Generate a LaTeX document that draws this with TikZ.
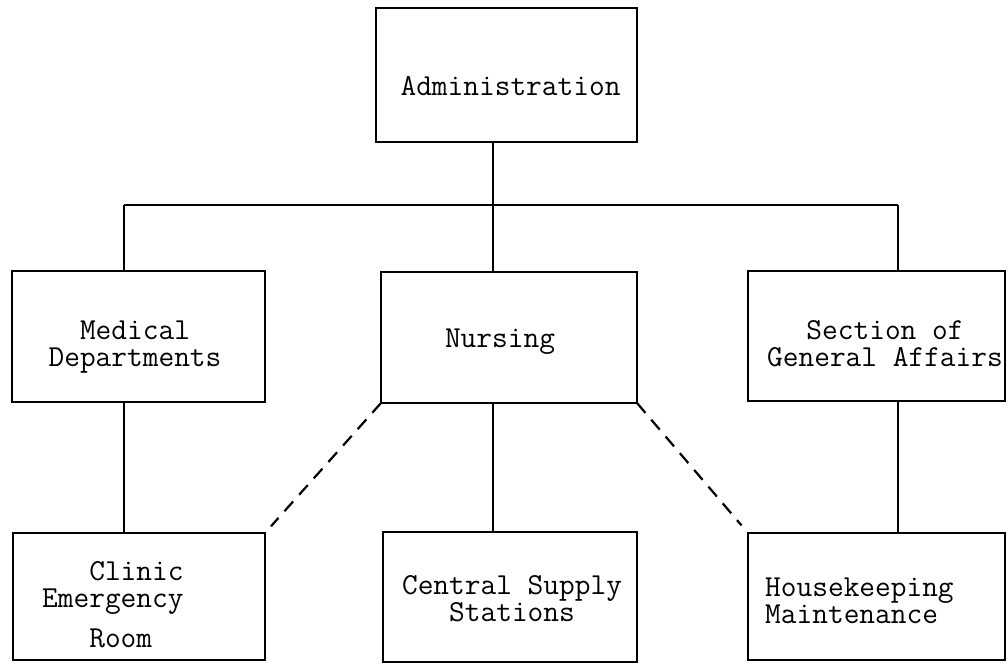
\documentclass[tikz,border=0pt]{standalone}
\usepackage{fontspec}
\begin{document}
\begin{tikzpicture}[x=1pt,y=-1pt,
  box/.style={draw, line width=2.8pt, inner sep=0pt, outer sep=0pt, rectangle},
  conn/.style={line width=2.8pt},
  dconn/.style={line width=2.2pt, dash pattern=on 13pt off 9pt},
  txt/.style={inner sep=0pt,
    font=\ttfamily\addfontfeatures{FakeBold=2}\fontsize{30.5}{27}\selectfont}]
\useasboundingbox (0,0) rectangle (1008,664);
% boxes
\node[box, minimum width=261pt, minimum height=134pt] (admin) at (506.5,75) {};
\node[box, minimum width=253pt, minimum height=131pt] (med) at (138.5,336.5) {};
\node[box, minimum width=256pt, minimum height=131pt] (nur) at (509,337.5) {};
\node[box, minimum width=257pt, minimum height=130pt] (sec) at (876.5,336) {};
\node[box, minimum width=252pt, minimum height=127pt] (cli) at (139,596.5) {};
\node[box, minimum width=254pt, minimum height=130pt] (cen) at (510,597) {};
\node[box, minimum width=257pt, minimum height=127pt] (hk) at (876.5,596.5) {};
% texts (base anchor = baseline of the last line)
\node[txt, anchor=base] (admin-t) at (510.5,95) {Administration};
\node[txt, anchor=base, align=center] (med-t) at (135,366) {Medical\\Departments};
\node[txt, anchor=base] (nur-t) at (500,347) {Nursing};
\node[txt, anchor=base, align=center] (sec-t) at (885,366) {Section of\\General Affairs};
\node[txt, anchor=base west, align=left] (cli-t) at (42,647) {\hphantom{Eme}Clinic\\Emergency\\[13pt]\hphantom{Eme}Room};
\node[txt, anchor=base, align=center] (cen-t) at (512,621) {Central Supply\\Stations};
\node[txt, anchor=base west, align=left] (hk-t) at (765,623) {Housekeeping\\Maintenance};
% bus
\coordinate (bus) at (493,205);
\coordinate (busL) at (124,205);
\coordinate (busR) at (898,205);
\draw[conn] (admin.south -| bus) -- (bus);
\draw[conn] (busL) -- (busR);
\draw[conn] (busL) -- (busL |- med.north);
\draw[conn] (bus) -- (bus |- nur.north);
\draw[conn] (busR) -- (busR |- sec.north);
\draw[conn] (med.south -| busL) -- (cli.north -| busL);
\draw[conn] (nur.south -| bus) -- (cen.north -| bus);
\draw[conn] (sec.south -| busR) -- (hk.north -| busR);
\draw[dconn, shorten >=9pt] (nur.south west) -- (cli.north east);
\draw[dconn, shorten >=10pt] (nur.south east) -- (hk.north west);
\end{tikzpicture}
\end{document}
